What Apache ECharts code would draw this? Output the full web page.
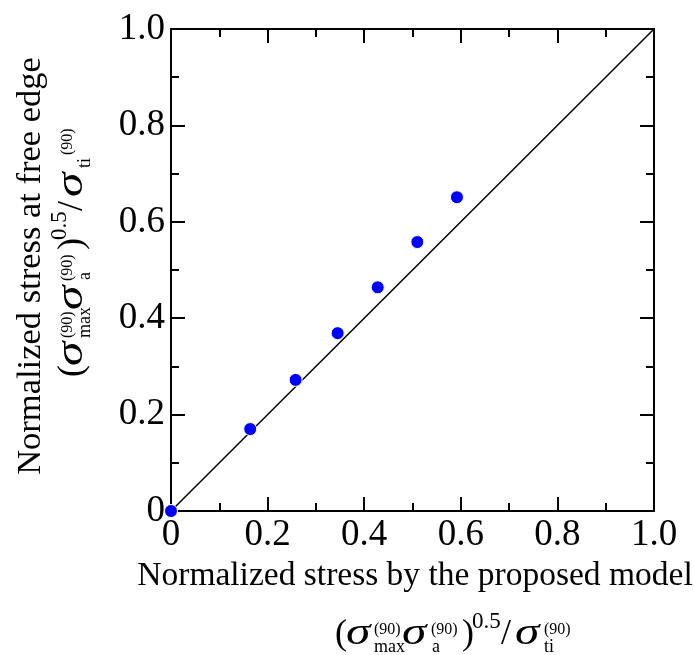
<!DOCTYPE html>
<html>
<head>
<meta charset="utf-8">
<script src="https://cdn.jsdelivr.net/npm/echarts@6/dist/echarts.min.js"></script>
<style>
html,body{margin:0;padding:0;background:#fff;}
#chart{width:694px;height:655px;}
</style>
</head>
<body>
<div id="chart"></div>
<script>
// ---- data ----
const modelStress = [0, 0.164, 0.258, 0.345, 0.428, 0.510, 0.592];
const edgeStress  = [0, 0.170, 0.272, 0.369, 0.464, 0.558, 0.651];
const refLineX = [0, 1];
const refLineY = [0, 1];
const tickLabels = ['0', '0.2', '0.4', '0.6', '0.8', '1.0'];
const xTitle = 'Normalized stress by the proposed model';
const yTitle = 'Normalized stress at free edge';

const FONT = '"Times New Roman", "Liberation Serif", serif';

const chart = echarts.init(document.getElementById('chart'), null, {renderer: 'canvas'});

function fmt(v) {
  const i = Math.round(v / 0.2);
  return tickLabels[i] !== undefined ? tickLabels[i] : '';
}

function axisBase(pos, showLabel) {
  return {
    type: 'value', min: 0, max: 1, interval: 0.2, position: pos,
    axisLine: {show: true, onZero: false, lineStyle: {color: '#000', width: 2}},
    axisTick: {show: true, inside: true, length: 14, lineStyle: {color: '#000', width: 2}},
    minorTick: {show: true, splitNumber: 2, length: 8, lineStyle: {color: '#000', width: 2}},
    splitLine: {show: false},
    axisLabel: {show: showLabel, formatter: fmt, fontFamily: FONT, fontSize: 37, color: '#000', margin: 6}
  };
}

function mathText(x, y, rotation, pieces) {
  return {
    type: 'group', x: x, y: y, rotation: rotation,
    children: pieces.map(p => ({
      type: 'text',
      x: p.dx, y: p.dy - 0.3375 * p.size,
      scaleX: p.sx || 1,
      originX: 0, originY: 0,
      style: {
        text: p.t,
        font: (p.it ? 'italic ' : '') + p.size + 'px ' + FONT,
        fill: '#000', textAlign: 'left', textVerticalAlign: 'middle', verticalAlign: 'middle'
      }
    }))
  };
}

const basePieces = [
  {t: '(', dx: 0, dy: 0, size: 36},
  {t: 'σ', dx: 11, dy: 0, size: 38, it: true, sx: 1.3},
  {t: '(90)', dx: 39, dy: -12, size: 16},
  {t: 'max', dx: 39, dy: 6, size: 18},
  {t: 'σ', dx: 67, dy: 0, size: 38, it: true, sx: 1.3},
  {t: '(90)', dx: 96, dy: -12, size: 16},
  {t: 'a', dx: 97, dy: 6, size: 18},
  {t: ')', dx: 127, dy: 0, size: 36},
  {t: '0.5', dx: 137, dy: -17, size: 23},
  {t: '/', dx: 166, dy: 0, size: 36},
  {t: 'σ', dx: 180, dy: 0, size: 38, it: true, sx: 1.3},
  {t: 'ti', dx: 209, dy: 6, size: 18}
];
const xPieces = basePieces.concat([{t: '(90)', dx: 209, dy: -12, size: 16}]);
const yPieces = basePieces.concat([{t: '(90)', dx: 222, dy: -12, size: 16}]);

const option = {
  backgroundColor: '#fff',
  animation: false,
  grid: {left: 171, right: 40, top: 29, bottom: 144, containLabel: false},
  xAxis: [axisBase('bottom', true), axisBase('top', false)],
  yAxis: [axisBase('left', true), axisBase('right', false)],
  series: [
    {
      type: 'line',
      data: refLineX.map((v, i) => [v, refLineY[i]]),
      showSymbol: false, symbol: 'none',
      lineStyle: {color: '#000', width: 1.5},
      z: 3
    },
    {
      type: 'scatter',
      data: modelStress.map((v, i) => [v, edgeStress[i]]),
      symbol: 'circle', symbolSize: 13, clip: false,
      itemStyle: {color: '#0000ff', borderColor: '#fff', borderWidth: 1, opacity: 1},
      z: 5
    }
  ],
  graphic: [
    {type: 'text', x: 415, y: 576, style: {text: xTitle, font: '33.5px ' + FONT, fill: '#000', textAlign: 'center', textVerticalAlign: 'middle', verticalAlign: 'middle'}},
    {type: 'text', x: 31, y: 266, rotation: Math.PI / 2, style: {text: yTitle, font: '34.5px ' + FONT, fill: '#000', textAlign: 'center', textVerticalAlign: 'middle', verticalAlign: 'middle'}},
    mathText(335, 647, 0, xPieces),
    mathText(85, 377, Math.PI / 2, yPieces)
  ]
};
chart.setOption(option);
</script>
</body>
</html>
